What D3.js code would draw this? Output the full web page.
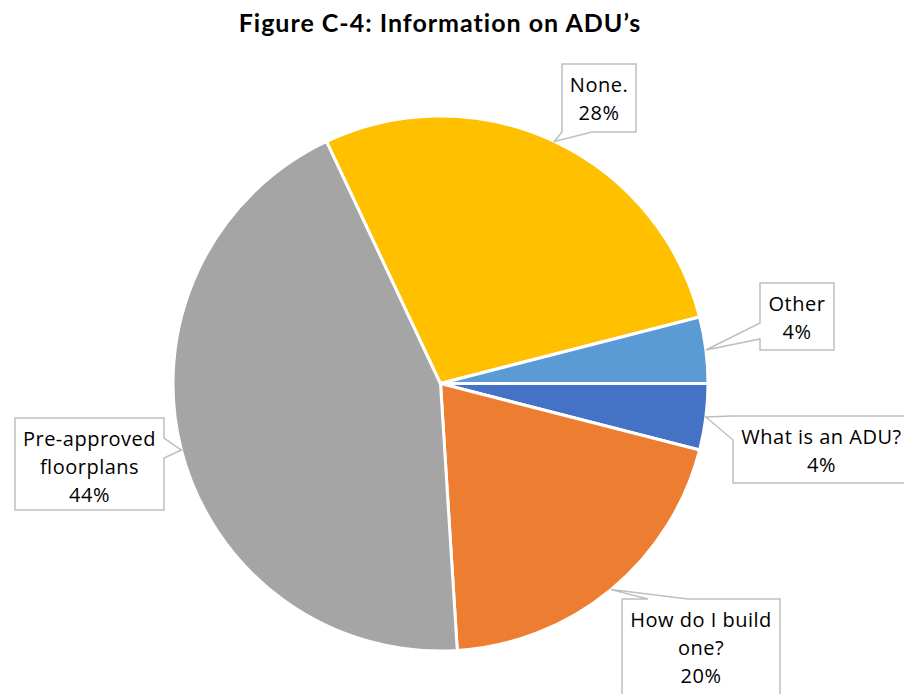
<!DOCTYPE html>
<meta charset="utf-8">
<script src="https://d3js.org/d3.v7.min.js"></script>
<style>
  body { margin: 0; background: #fff; }
  text { font-family: "Open Sans", sans-serif; }
</style>
<svg width="904" height="694"></svg>
<script>
// data, clockwise from 3 o'clock
var categories = ["What is an ADU?", "How do I build one?", "Pre-approved floorplans", "None.", "Other"];
var values = [4, 20, 44, 28, 4];
var colors = ["#4472C4", "#ED7D31", "#A5A5A5", "#FFC000", "#5B9BD5"];
var labelLines = [["What is an ADU?"], ["How do I build", "one?"], ["Pre-approved", "floorplans"], ["None."], ["Other"]];

// callout boxes: [x0, y0, x1, y1], pointer side and base span on that side
var boxes = [
  {box: [733, 416, 910, 483], side: "left", base: [416, 440]},
  {box: [622, 599, 780, 700], side: "top", base: [648, 688]},
  {box: [15, 418, 164, 510], side: "right", base: [438, 458]},
  {box: [562, 64, 636, 132], side: "bottom", base: [562, 592]},
  {box: [760, 283, 834, 350], side: "left", base: [323, 339]}
];

var width = 904, height = 694;
var cx = 440.5, cy = 383.5, radius = 267.5;

var svg = d3.select("svg");

svg.append("text")
    .attr("x", 440)
    .attr("y", 32)
    .attr("text-anchor", "middle")
    .style("font-family", "Lato, sans-serif")
    .style("font-weight", "bold")
    .style("font-size", "25px")
    .style("letter-spacing", "1px")
    .style("fill", "#000")
    .text("Figure C-4: Information on ADU\u2019s");

var pie = d3.pie()
    .sort(null)
    .startAngle(Math.PI / 2)
    .endAngle(Math.PI / 2 + 2 * Math.PI)
    .value(function(d) { return d; });

var arcs = pie(values);

var arc = d3.arc().innerRadius(0).outerRadius(radius);

var g = svg.append("g").attr("transform", "translate(" + cx + "," + cy + ")");

g.selectAll("path")
    .data(arcs)
    .enter().append("path")
    .attr("d", arc)
    .style("fill", function(d, i) { return colors[i]; })
    .style("stroke", "#fff")
    .style("stroke-width", 3)
    .style("stroke-linejoin", "round");

function calloutPath(b, tip) {
  var x0 = b.box[0], y0 = b.box[1], x1 = b.box[2], y1 = b.box[3];
  var a = b.base[0], c = b.base[1];
  var pts = [[x0, y0]];
  if (b.side === "top") pts.push([a, y0], tip, [c, y0]);
  pts.push([x1, y0]);
  if (b.side === "right") pts.push([x1, a], tip, [x1, c]);
  pts.push([x1, y1]);
  if (b.side === "bottom") pts.push([c, y1], tip, [a, y1]);
  pts.push([x0, y1]);
  if (b.side === "left") pts.push([x0, c], tip, [x0, a]);
  return "M" + pts.map(function(p) { return p[0] + "," + p[1]; }).join("L") + "Z";
}

var labels = svg.append("g");

arcs.forEach(function(d, i) {
  var mid = (d.startAngle + d.endAngle) / 2;
  var tip = [cx + radius * Math.sin(mid), cy - radius * Math.cos(mid)];
  var b = boxes[i];

  labels.append("path")
      .attr("d", calloutPath(b, tip))
      .style("fill", "#fff")
      .style("stroke", "#BFBFBF")
      .style("stroke-width", 1.5);

  var lines = labelLines[i].concat([values[i] + "%"]);
  var tx = (b.box[0] + b.box[2]) / 2;
  var t = labels.append("text")
      .attr("x", tx)
      .attr("y", b.box[1] + 28)
      .attr("text-anchor", "middle")
      .style("font-size", "20px")
      .style("letter-spacing", "0.5px")
      .style("fill", "#000");
  lines.forEach(function(l, j) {
    t.append("tspan")
        .attr("x", tx)
        .attr("dy", j === 0 ? 0 : 28)
        .text(l);
  });
});
</script>
